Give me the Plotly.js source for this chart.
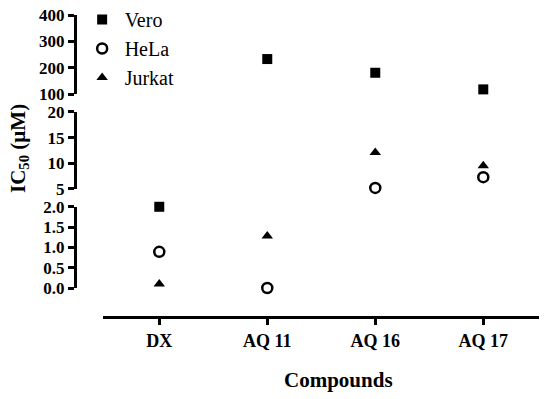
<!DOCTYPE html>
<html>
<head>
<meta charset="utf-8">
<script src="https://cdn.plot.ly/plotly-3.0.1.min.js"></script>
<style>
  html, body { margin: 0; padding: 0; background: #fff; }
  #chart { width: 550px; height: 399px; }
</style>
</head>
<body>
<div id="chart"></div>
<script>
// Chart values
const compounds = ['DX', 'AQ 11', 'AQ 16', 'AQ 17'];
const vero = [2.0, 233, 181, 118];
const hela = [0.89, 0.0, 5.2, 7.3];
const jurkat = [0.1, 1.28, 12.1, 9.5];

const bottomTicks = [0, 0.5, 1.0, 1.5, 2.0];
const bottomLabels = ['0.0', '0.5', '1.0', '1.5', '2.0'];
const middleTicks = [5, 10, 15, 20];
const topTicks = [100, 200, 300, 400];

const serif = 'Liberation Serif';

// Which axis segment a value belongs to
function segmentOf(v) {
    if (v <= 2) return 'y';
    if (v <= 20) return 'y2';
    return 'y3';
}

let series = [
    { name: 'Vero', vals: vero, marker: { symbol: 'square', size: 10, color: 'black' } },
    { name: 'HeLa', vals: hela, marker: { symbol: 'circle-open', size: 10, color: 'black', line: { width: 2.5, color: 'black' } } },
    { name: 'Jurkat', vals: jurkat, marker: { symbol: 'triangle-up', size: 10, color: 'black' } },
];

let traces = [];
series.forEach(s => {
    let first = true;
    ['y', 'y2', 'y3'].forEach(ax => {
        let xs = [], ys = [];
        for (let i = 0; i < compounds.length; ++i) {
            if (segmentOf(s.vals[i]) === ax) { xs.push(compounds[i]); ys.push(s.vals[i]); }
        }
        if (xs.length === 0) return;
        traces.push({
            x: xs, y: ys, yaxis: ax, xaxis: 'x',
            type: 'scatter', mode: 'markers',
            name: s.name, legendgroup: s.name, showlegend: first,
            marker: s.marker, cliponaxis: false,
        });
        first = false;
    });
});

const bold = arr => arr.map(t => '<b>' + t + '</b>');

const yCommon = {
    anchor: 'free', position: 0,
    showline: true, linewidth: 3, linecolor: 'black',
    ticks: 'outside', ticklen: 6, tickwidth: 3, tickcolor: 'black',
    showgrid: false, zeroline: false, fixedrange: true,
    tickfont: { family: serif, size: 17, color: 'black' },
    tickmode: 'array',
};

let layout = {
    width: 550, height: 399,
    margin: { l: 75, r: 11, t: 15, b: 82, autoexpand: false },
    paper_bgcolor: 'white', plot_bgcolor: 'white',
    font: { family: serif, color: 'black' },
    xaxis: {
        type: 'category', categoryorder: 'array', categoryarray: compounds,
        domain: [28 / 464, 1], range: [-0.521, 3.516],
        anchor: 'free', position: 0,
        showline: true, linewidth: 3, linecolor: 'black',
        ticks: 'outside', ticklen: 6, tickwidth: 3, tickcolor: 'black',
        showgrid: false, zeroline: false,
        tickmode: 'array', tickvals: compounds, ticktext: bold(compounds),
        tickfont: { family: serif, size: 18, color: 'black' },
    },
    yaxis: Object.assign({}, yCommon, {
        domain: [0.096, 0.365], range: [0, 2],
        tickvals: bottomTicks, ticktext: bold(bottomLabels),
    }),
    yaxis2: Object.assign({}, yCommon, {
        domain: [0.424, 0.679], range: [5, 20],
        tickvals: middleTicks, ticktext: bold(middleTicks.map(String)),
    }),
    yaxis3: Object.assign({}, yCommon, {
        domain: [0.738, 1.0], range: [100, 400],
        tickvals: topTicks, ticktext: bold(topTicks.map(String)),
    }),
    legend: {
        x: 0.01, y: 1.0, xanchor: 'left', yanchor: 'top', yref: 'container',
        tracegroupgap: 0, itemwidth: 35,
        bgcolor: 'rgba(0,0,0,0)',
        font: { family: serif, size: 20, color: 'black' },
    },
    showlegend: true,
    annotations: [{
        text: '<b>IC<sub>50</sub> (µM)</b>',
        xref: 'paper', yref: 'paper',
        x: (19 - 75) / 464, y: (317 - 149) / 302,
        xanchor: 'center', yanchor: 'middle',
        textangle: -90, showarrow: false,
        font: { family: serif, size: 21, color: 'black' },
    }, {
        text: '<b>Compounds</b>',
        xref: 'paper', yref: 'paper',
        x: (338 - 75) / 464, y: (317 - 380) / 302,
        xanchor: 'center', yanchor: 'middle',
        showarrow: false,
        font: { family: serif, size: 21, color: 'black' },
    }],
};

Plotly.newPlot('chart', traces, layout, { staticPlot: true, displayModeBar: false });
</script>
</body>
</html>
